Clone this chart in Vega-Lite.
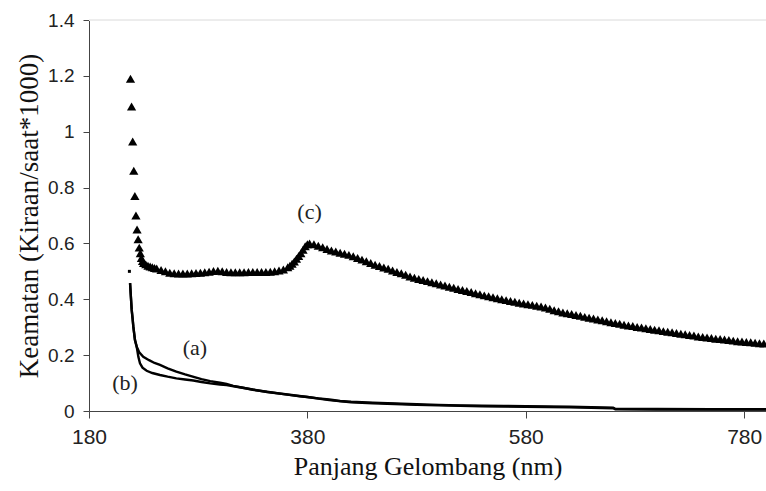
{
  "$schema": "https://vega.github.io/schema/vega-lite/v6.json",
  "width": 677,
  "height": 391,
  "autosize": {"type": "none"},
  "padding": {"left": 89, "top": 20, "right": 0, "bottom": 80},
  "background": "white",
  "config": {
    "font": "Liberation Serif",
    "view": {"stroke": null},
    "axis": {"domainColor": "#444", "tickColor": "#444", "labelColor": "#222", "titleColor": "#111", "grid": false, "labelFont": "Liberation Sans", "titleFont": "Liberation Serif", "titleFontWeight": "normal"}
  },
  "datasets": {
    "curves": [
      {"series": "dot", "x": 217, "y": 0.5},
      {"series": "a", "x": 217.6, "y": 0.458}, {"series": "a", "x": 218.5, "y": 0.4}, {"series": "a", "x": 219.1, "y": 0.362}, {"series": "a", "x": 220, "y": 0.33}, {"series": "a", "x": 220.6, "y": 0.302}, {"series": "a", "x": 222.1, "y": 0.254}, {"series": "a", "x": 223.7, "y": 0.23}, {"series": "a", "x": 226, "y": 0.21}, {"series": "a", "x": 229.7, "y": 0.194}, {"series": "a", "x": 235, "y": 0.182}, {"series": "a", "x": 240, "y": 0.172}, {"series": "a", "x": 245, "y": 0.165}, {"series": "a", "x": 252, "y": 0.153}, {"series": "a", "x": 260, "y": 0.141}, {"series": "a", "x": 268, "y": 0.131}, {"series": "a", "x": 275, "y": 0.123}, {"series": "a", "x": 283, "y": 0.114}, {"series": "a", "x": 291, "y": 0.107}, {"series": "a", "x": 300, "y": 0.101}, {"series": "a", "x": 306, "y": 0.097}, {"series": "a", "x": 312, "y": 0.09}, {"series": "a", "x": 320, "y": 0.084}, {"series": "a", "x": 330, "y": 0.076}, {"series": "a", "x": 343, "y": 0.069}, {"series": "a", "x": 355, "y": 0.062}, {"series": "a", "x": 365, "y": 0.057}, {"series": "a", "x": 373, "y": 0.053}, {"series": "a", "x": 380, "y": 0.05}, {"series": "a", "x": 390, "y": 0.045}, {"series": "a", "x": 400, "y": 0.041}, {"series": "a", "x": 410, "y": 0.036}, {"series": "a", "x": 420, "y": 0.033}, {"series": "a", "x": 440, "y": 0.03}, {"series": "a", "x": 460, "y": 0.027}, {"series": "a", "x": 480, "y": 0.024}, {"series": "a", "x": 500, "y": 0.022}, {"series": "a", "x": 520, "y": 0.02}, {"series": "a", "x": 540, "y": 0.019}, {"series": "a", "x": 560, "y": 0.018}, {"series": "a", "x": 580, "y": 0.017}, {"series": "a", "x": 600, "y": 0.016}, {"series": "a", "x": 620, "y": 0.015}, {"series": "a", "x": 640, "y": 0.014}, {"series": "a", "x": 660, "y": 0.012}, {"series": "a", "x": 662, "y": 0.008}, {"series": "a", "x": 700, "y": 0.007}, {"series": "a", "x": 750, "y": 0.006}, {"series": "a", "x": 800, "y": 0.006},
      {"series": "b", "x": 217.6, "y": 0.458}, {"series": "b", "x": 219.1, "y": 0.362}, {"series": "b", "x": 220.6, "y": 0.302}, {"series": "b", "x": 222.1, "y": 0.254}, {"series": "b", "x": 223.7, "y": 0.23}, {"series": "b", "x": 225.2, "y": 0.194}, {"series": "b", "x": 226.7, "y": 0.171}, {"series": "b", "x": 229, "y": 0.155}, {"series": "b", "x": 232.8, "y": 0.144}, {"series": "b", "x": 238, "y": 0.136}, {"series": "b", "x": 245, "y": 0.129}, {"series": "b", "x": 252, "y": 0.123}, {"series": "b", "x": 260, "y": 0.117}, {"series": "b", "x": 268, "y": 0.113}, {"series": "b", "x": 275.5, "y": 0.109}, {"series": "b", "x": 283, "y": 0.104}, {"series": "b", "x": 291, "y": 0.099}, {"series": "b", "x": 300, "y": 0.095}, {"series": "b", "x": 306, "y": 0.093}, {"series": "b", "x": 315, "y": 0.087}, {"series": "b", "x": 330, "y": 0.077}, {"series": "b", "x": 343, "y": 0.068}, {"series": "b", "x": 360, "y": 0.06}, {"series": "b", "x": 380, "y": 0.05}, {"series": "b", "x": 400, "y": 0.039}, {"series": "b", "x": 420, "y": 0.031}, {"series": "b", "x": 440, "y": 0.028}, {"series": "b", "x": 460, "y": 0.025}, {"series": "b", "x": 480, "y": 0.022}, {"series": "b", "x": 500, "y": 0.02}, {"series": "b", "x": 540, "y": 0.017}, {"series": "b", "x": 580, "y": 0.015}, {"series": "b", "x": 620, "y": 0.013}, {"series": "b", "x": 660, "y": 0.01}, {"series": "b", "x": 662, "y": 0.006}, {"series": "b", "x": 700, "y": 0.005}, {"series": "b", "x": 800, "y": 0.005},
      {"series": "c", "x": 218, "y": 1.19}, {"series": "c", "x": 219, "y": 1.09}, {"series": "c", "x": 220, "y": 0.965}, {"series": "c", "x": 221, "y": 0.86}, {"series": "c", "x": 222, "y": 0.77}, {"series": "c", "x": 223, "y": 0.7}, {"series": "c", "x": 224, "y": 0.65}, {"series": "c", "x": 225, "y": 0.615}, {"series": "c", "x": 226, "y": 0.585}, {"series": "c", "x": 227, "y": 0.565}, {"series": "c", "x": 228, "y": 0.548}, {"series": "c", "x": 229, "y": 0.537}, {"series": "c", "x": 230, "y": 0.53}, {"series": "c", "x": 232, "y": 0.525}, {"series": "c", "x": 234, "y": 0.52}, {"series": "c", "x": 236, "y": 0.517}, {"series": "c", "x": 238, "y": 0.515}, {"series": "c", "x": 240, "y": 0.512}, {"series": "c", "x": 242, "y": 0.51}, {"series": "c", "x": 246, "y": 0.505}, {"series": "c", "x": 250, "y": 0.5}, {"series": "c", "x": 254, "y": 0.495}, {"series": "c", "x": 258, "y": 0.493}, {"series": "c", "x": 262, "y": 0.492}, {"series": "c", "x": 266, "y": 0.492}, {"series": "c", "x": 270, "y": 0.492}, {"series": "c", "x": 274, "y": 0.493}, {"series": "c", "x": 278, "y": 0.494}, {"series": "c", "x": 282, "y": 0.495}, {"series": "c", "x": 286, "y": 0.497}, {"series": "c", "x": 290, "y": 0.499}, {"series": "c", "x": 294, "y": 0.501}, {"series": "c", "x": 298, "y": 0.502}, {"series": "c", "x": 302, "y": 0.5}, {"series": "c", "x": 306, "y": 0.498}, {"series": "c", "x": 310, "y": 0.497}, {"series": "c", "x": 314, "y": 0.497}, {"series": "c", "x": 318, "y": 0.497}, {"series": "c", "x": 322, "y": 0.497}, {"series": "c", "x": 326, "y": 0.498}, {"series": "c", "x": 330, "y": 0.498}, {"series": "c", "x": 334, "y": 0.498}, {"series": "c", "x": 338, "y": 0.498}, {"series": "c", "x": 342, "y": 0.498}, {"series": "c", "x": 346, "y": 0.499}, {"series": "c", "x": 350, "y": 0.5}, {"series": "c", "x": 354, "y": 0.503}, {"series": "c", "x": 358, "y": 0.507}, {"series": "c", "x": 362, "y": 0.515}, {"series": "c", "x": 364, "y": 0.52}, {"series": "c", "x": 366, "y": 0.527}, {"series": "c", "x": 368, "y": 0.535}, {"series": "c", "x": 370, "y": 0.545}, {"series": "c", "x": 372, "y": 0.555}, {"series": "c", "x": 374, "y": 0.565}, {"series": "c", "x": 376, "y": 0.577}, {"series": "c", "x": 378, "y": 0.59}, {"series": "c", "x": 380, "y": 0.597}, {"series": "c", "x": 382, "y": 0.6}, {"series": "c", "x": 386, "y": 0.597}, {"series": "c", "x": 390, "y": 0.592}, {"series": "c", "x": 394, "y": 0.586}, {"series": "c", "x": 398, "y": 0.58}, {"series": "c", "x": 402, "y": 0.575}, {"series": "c", "x": 406, "y": 0.571}, {"series": "c", "x": 410, "y": 0.567}, {"series": "c", "x": 414, "y": 0.563}, {"series": "c", "x": 418, "y": 0.559}, {"series": "c", "x": 422, "y": 0.554}, {"series": "c", "x": 426, "y": 0.548}, {"series": "c", "x": 430, "y": 0.542}, {"series": "c", "x": 434, "y": 0.536}, {"series": "c", "x": 438, "y": 0.53}, {"series": "c", "x": 442, "y": 0.524}, {"series": "c", "x": 446, "y": 0.519}, {"series": "c", "x": 450, "y": 0.514}, {"series": "c", "x": 454, "y": 0.509}, {"series": "c", "x": 458, "y": 0.503}, {"series": "c", "x": 462, "y": 0.498}, {"series": "c", "x": 466, "y": 0.493}, {"series": "c", "x": 470, "y": 0.488}, {"series": "c", "x": 474, "y": 0.482}, {"series": "c", "x": 478, "y": 0.477}, {"series": "c", "x": 482, "y": 0.473}, {"series": "c", "x": 486, "y": 0.469}, {"series": "c", "x": 490, "y": 0.465}, {"series": "c", "x": 494, "y": 0.461}, {"series": "c", "x": 498, "y": 0.457}, {"series": "c", "x": 502, "y": 0.453}, {"series": "c", "x": 506, "y": 0.449}, {"series": "c", "x": 510, "y": 0.445}, {"series": "c", "x": 514, "y": 0.441}, {"series": "c", "x": 518, "y": 0.437}, {"series": "c", "x": 522, "y": 0.433}, {"series": "c", "x": 526, "y": 0.43}, {"series": "c", "x": 530, "y": 0.426}, {"series": "c", "x": 534, "y": 0.422}, {"series": "c", "x": 538, "y": 0.418}, {"series": "c", "x": 542, "y": 0.414}, {"series": "c", "x": 546, "y": 0.411}, {"series": "c", "x": 550, "y": 0.407}, {"series": "c", "x": 554, "y": 0.404}, {"series": "c", "x": 558, "y": 0.4}, {"series": "c", "x": 562, "y": 0.397}, {"series": "c", "x": 566, "y": 0.394}, {"series": "c", "x": 570, "y": 0.391}, {"series": "c", "x": 574, "y": 0.388}, {"series": "c", "x": 578, "y": 0.385}, {"series": "c", "x": 582, "y": 0.382}, {"series": "c", "x": 586, "y": 0.38}, {"series": "c", "x": 590, "y": 0.377}, {"series": "c", "x": 594, "y": 0.374}, {"series": "c", "x": 598, "y": 0.371}, {"series": "c", "x": 602, "y": 0.366}, {"series": "c", "x": 606, "y": 0.361}, {"series": "c", "x": 610, "y": 0.357}, {"series": "c", "x": 614, "y": 0.353}, {"series": "c", "x": 618, "y": 0.35}, {"series": "c", "x": 622, "y": 0.347}, {"series": "c", "x": 626, "y": 0.344}, {"series": "c", "x": 630, "y": 0.341}, {"series": "c", "x": 634, "y": 0.337}, {"series": "c", "x": 638, "y": 0.334}, {"series": "c", "x": 642, "y": 0.331}, {"series": "c", "x": 646, "y": 0.328}, {"series": "c", "x": 650, "y": 0.325}, {"series": "c", "x": 654, "y": 0.321}, {"series": "c", "x": 658, "y": 0.318}, {"series": "c", "x": 662, "y": 0.315}, {"series": "c", "x": 666, "y": 0.312}, {"series": "c", "x": 670, "y": 0.309}, {"series": "c", "x": 674, "y": 0.306}, {"series": "c", "x": 678, "y": 0.304}, {"series": "c", "x": 682, "y": 0.301}, {"series": "c", "x": 686, "y": 0.299}, {"series": "c", "x": 690, "y": 0.296}, {"series": "c", "x": 694, "y": 0.294}, {"series": "c", "x": 698, "y": 0.291}, {"series": "c", "x": 702, "y": 0.289}, {"series": "c", "x": 706, "y": 0.286}, {"series": "c", "x": 710, "y": 0.284}, {"series": "c", "x": 714, "y": 0.282}, {"series": "c", "x": 718, "y": 0.279}, {"series": "c", "x": 722, "y": 0.277}, {"series": "c", "x": 726, "y": 0.275}, {"series": "c", "x": 730, "y": 0.272}, {"series": "c", "x": 734, "y": 0.27}, {"series": "c", "x": 738, "y": 0.267}, {"series": "c", "x": 742, "y": 0.265}, {"series": "c", "x": 746, "y": 0.263}, {"series": "c", "x": 750, "y": 0.261}, {"series": "c", "x": 754, "y": 0.259}, {"series": "c", "x": 758, "y": 0.258}, {"series": "c", "x": 762, "y": 0.256}, {"series": "c", "x": 766, "y": 0.254}, {"series": "c", "x": 770, "y": 0.252}, {"series": "c", "x": 774, "y": 0.25}, {"series": "c", "x": 778, "y": 0.249}, {"series": "c", "x": 782, "y": 0.247}, {"series": "c", "x": 786, "y": 0.246}, {"series": "c", "x": 790, "y": 0.244}, {"series": "c", "x": 794, "y": 0.243}, {"series": "c", "x": 798, "y": 0.242}
    ],
    "labels": [
      {"label": "(a)", "x": 277, "y": 0.226},
      {"label": "(b)", "x": 213, "y": 0.1},
      {"label": "(c)", "x": 382, "y": 0.712}
    ]
  },
  "encoding": {
    "x": {"field": "x", "type": "quantitative", "scale": {"domain": [180, 800], "nice": false, "zero": false},
      "axis": {"values": [180, 380, 580, 780], "title": "Panjang Gelombang (nm)", "titleFont": "Liberation Serif", "labelFont": "Liberation Sans", "titleFontWeight": "normal", "labelFontSize": 21, "titleFontSize": 26, "tickSize": 7, "labelPadding": 8, "titlePadding": 6, "labelFlush": false}},
    "y": {"field": "y", "type": "quantitative", "scale": {"domain": [0, 1.4], "nice": false},
      "axis": {"values": [0, 0.2, 0.4, 0.6, 0.8, 1, 1.2, 1.4], "format": "~g", "title": "Keamatan (Kiraan/saat*1000)", "titleFont": "Liberation Serif", "labelFont": "Liberation Sans", "titleFontWeight": "normal", "labelFontSize": 19, "titleFontSize": 27, "tickSize": 6, "labelPadding": 9, "titlePadding": 4}}
  },
  "layer": [
    {"data": {"name": "curves"}, "mark": {"type": "rule", "color": "#ececec", "strokeWidth": 1}, "encoding": {"x": null, "y": {"datum": 1.4}}},
    {"data": {"name": "curves"}, "transform": [{"filter": "datum.series === 'a' || datum.series === 'b'"}], "mark": {"type": "line", "color": "black", "strokeWidth": 2.4}, "encoding": {"detail": {"field": "series"}}},
    {"data": {"name": "curves"}, "transform": [{"filter": "datum.series === 'dot'"}], "mark": {"type": "point", "shape": "square", "filled": true, "color": "black", "size": 9, "opacity": 1}},
    {"data": {"name": "curves"}, "transform": [{"filter": "datum.series === 'c'"}], "mark": {"type": "point", "shape": "triangle-up", "filled": true, "color": "black", "size": 85, "opacity": 1}},
    {"data": {"name": "labels"}, "mark": {"type": "text", "font": "Liberation Serif", "fontSize": 22, "color": "#222"}, "encoding": {"text": {"field": "label"}}}
  ]
}
